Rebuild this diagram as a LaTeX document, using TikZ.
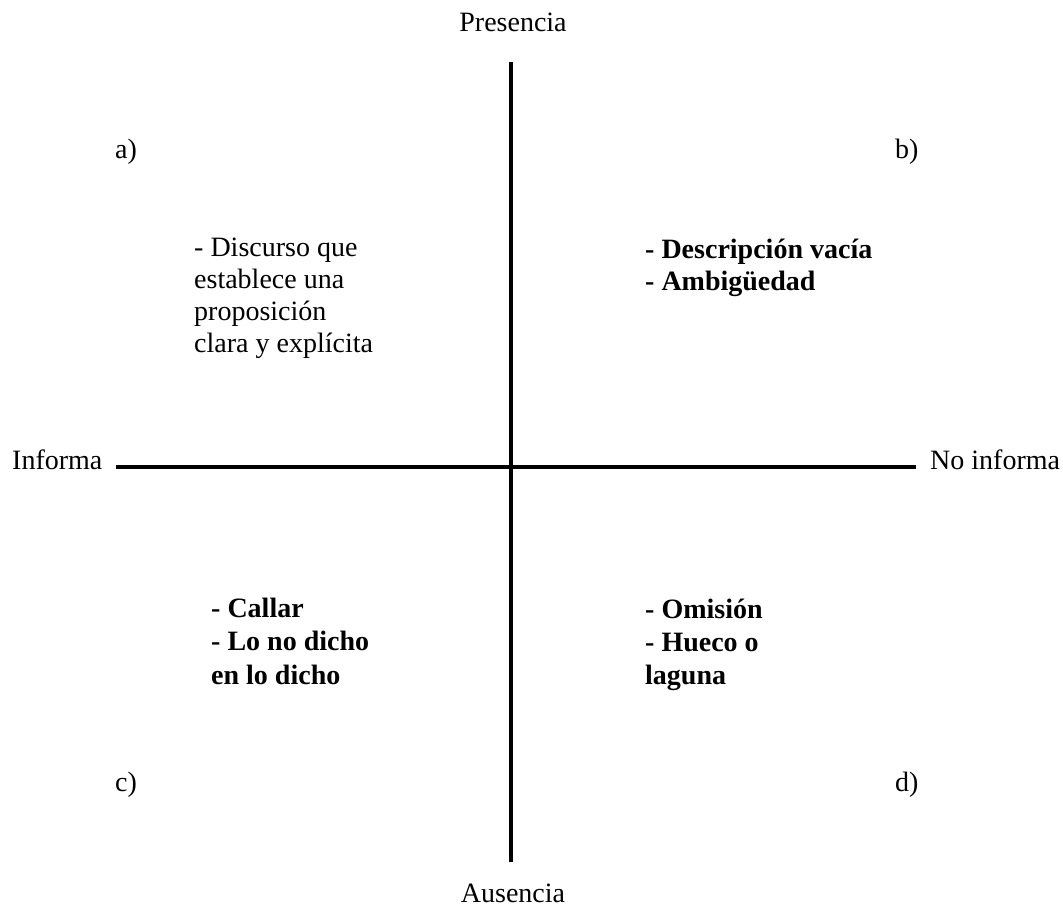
\documentclass[tikz,border=0pt]{standalone}
\usepackage{fontspec}
\setmainfont{Liberation Serif}
\begin{document}
\begin{tikzpicture}[x=1pt,y=-1pt,
  txt/.style={inner sep=0pt,anchor=base west,font=\fontsize{28}{32}\selectfont},
  txtb/.style={txt,font=\fontsize{28}{32}\selectfont\bfseries},
  axisline/.style={line width=4pt}]
\useasboundingbox (0,0) rectangle (1063,911);
% axes
\coordinate (top) at (511,62);
\coordinate (bot) at (511,862);
\coordinate (lft) at (116,467);
\coordinate (rgt) at (916,467);
\draw[axisline] (top) -- (bot);
\draw[axisline] (lft) -- (rgt);
% axis labels
\node[txt,anchor=base] (pres) at (513,31) {Presencia};
\node[txt,anchor=base] (aus) at (513,902) {Ausencia};
\node[txt] (inf) at (12,469) {Informa};
\node[txt] (noinf) at (930,469) {No informa};
% quadrant letters
\node[txt] (qa) at (115,158) {a)};
\node[txt] (qb) at (895,158) {b)};
\node[txt] (qc) at (115,791) {c)};
\node[txt] (qd) at (895,791) {d)};
% quadrant a
\node[txt] (a1) at (194,256) {- Discurso que};
\node[txt] (a2) at (194,288) {establece una};
\node[txt] (a3) at (194,320) {proposición};
\node[txt] (a4) at (194,352) {clara y explícita};
% quadrant b
\node[txtb] (b1) at (645,258) {- Descripción vacía};
\node[txtb] (b2) at (645,290) {- Ambigüedad};
% quadrant c
\node[txtb] (c1) at (211,617) {- Callar};
\node[txtb] (c2) at (211,650) {- Lo no dicho};
\node[txtb] (c3) at (211,684) {en lo dicho};
% quadrant d
\node[txtb] (d1) at (645,618) {- Omisión};
\node[txtb] (d2) at (645,651) {- Hueco o};
\node[txtb] (d3) at (645,684) {laguna};
\end{tikzpicture}
\end{document}
